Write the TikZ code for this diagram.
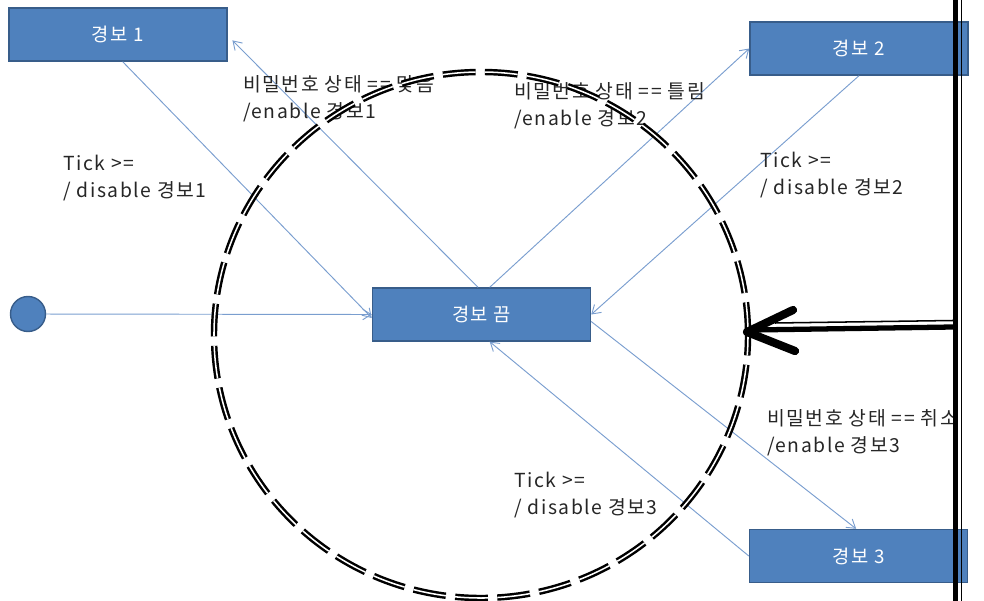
\documentclass[tikz,border=0pt]{standalone}
\usepackage{fontspec}
\setmainfont{Noto Sans CJK KR}[LetterSpace=8]
\usetikzlibrary{arrows.meta}
\definecolor{boxblue}{RGB}{79,129,189}
\definecolor{boxedge}{RGB}{56,93,138}
\definecolor{linkblue}{RGB}{122,158,207}

\begin{document}
\begin{tikzpicture}[x=0.03cm, y=-0.03cm,
  state/.style={draw=boxedge, line width=1.2pt, fill=boxblue, text=white,
    minimum width=6.54cm, minimum height=1.59cm, inner sep=0pt,
    font=\fontsize{16}{23}\selectfont},
  link/.style={draw=linkblue, line width=0.8pt, -{Straight Barb[length=7pt,width=9pt]}},
  lbl/.style={anchor=north west, align=left, inner sep=0pt, text=black!85,
    font=\fontsize{16.5}{23}\selectfont}]

\clip (0,0) rectangle (984,601);

\node[state] (a1) at (118,34.5) {경보 1};
\node[state] (a2) at (859,48.5) {경보 2};
\node[state] (a3) at (858.5,556) {경보 3};
\node[state] (off) at (481.5,314.5) {경보 끔};
\node[circle, draw=boxedge, line width=1.2pt, fill=boxblue, minimum size=1.05cm, inner sep=0pt] (init) at (28,314) {};

\draw[link] ([xshift=4pt]a1.south) -- ([yshift=-3pt]off.west);
\draw[link] ([xshift=-3pt]off.north) -- ([xshift=4pt,yshift=-5pt]a1.east);
\draw[link] ([xshift=7pt]off.north) -- (a2.west);
\draw[link] (a2.south) -- (off.east);
\draw[link] ([yshift=-6pt]off.east) -- ([xshift=-2pt]a3.north);
\draw[link] (a3.west) -- ([xshift=7pt]off.south);
\draw[link] (init) -- (off.west);

\node[lbl] (p1) at (243,75) {비밀번호 상태 == 맞음\\/enable 경보1};
\node[lbl] (p2) at (514,82) {비밀번호 상태 == 틀림\\/enable 경보2};
\node[lbl] (t1) at (63,155) {Tick >=\\/ disable 경보1};
\node[lbl] (t2) at (760,152) {Tick >=\\/ disable 경보2};
\node[lbl] (p3) at (767,409) {비밀번호 상태 == 취소\\/enable 경보3};
\node[lbl] (t3) at (514,472) {Tick >=\\/ disable 경보3};

% dashed circle round the off state
\draw[black, line width=2.1pt, double=white, double distance=1.3pt, dash pattern=on 28pt off 8pt]
  (481,335) ellipse [x radius=8.01cm, y radius=7.89cm];

% bar on the right
\draw[black, line width=4.5pt] (955.5,0) -- (955.5,601);
\draw[black, line width=1.3pt] (961.5,0) -- (961.5,601);

\coordinate (tip) at (747,332);
\draw[line width=4.5pt] (752,330) -- (953,327);
\draw[line width=1.3pt] (775,323) -- (953,320.5);
\draw[line width=7pt, line cap=round, line join=round] (793,310) -- (tip) -- (795,351);

\end{tikzpicture}
\end{document}
